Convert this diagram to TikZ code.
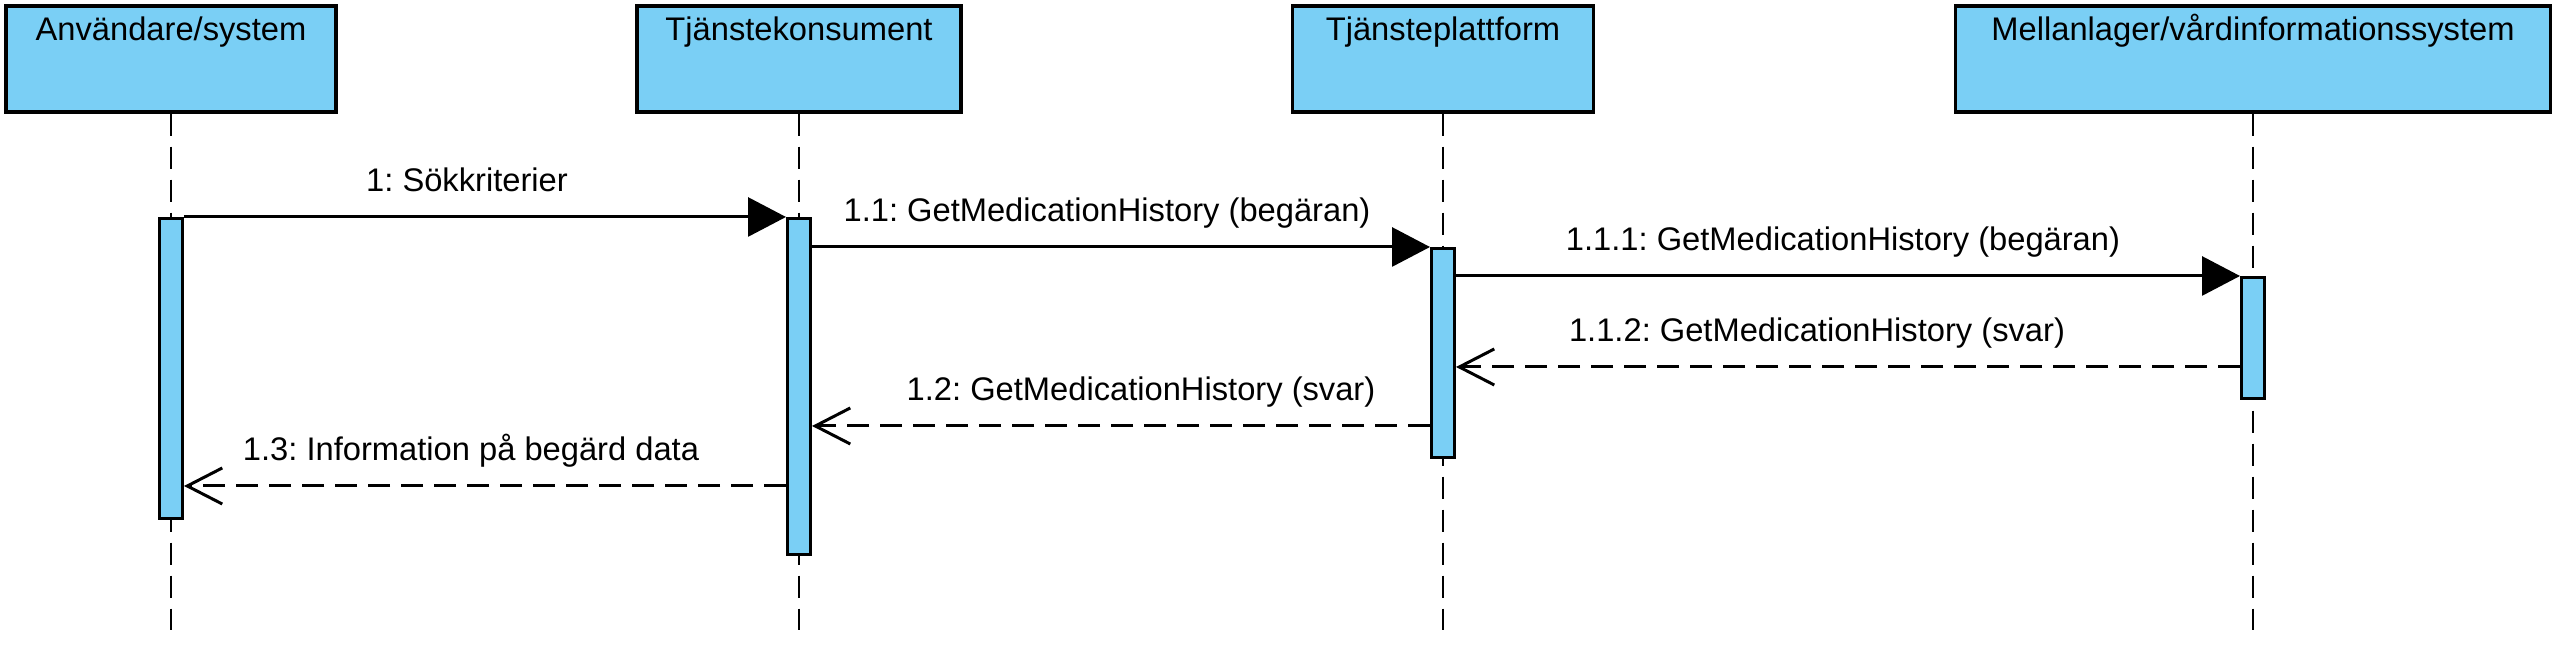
\documentclass[tikz,border=0pt]{standalone}
\usepackage{fontspec}
\setmainfont{Liberation Sans}
\usetikzlibrary{arrows.meta, calc, positioning}
\definecolor{umlblue}{RGB}{122,207,245}
\frenchspacing
\tikzset{
  part/.style  ={draw, fill=umlblue, line width=1pt, inner sep=0pt, minimum height=1.06cm},
  plbl/.style  ={font=\fontsize{9.3}{11}\selectfont, anchor=base, inner sep=0pt},
  act/.style   ={draw, fill=umlblue, line width=0.85pt, minimum width=0.23cm, inner sep=0pt, anchor=north},
  life/.style  ={line width=0.6pt, dash pattern=on 0.22cm off 0.11cm},
  call/.style  ={-{Triangle[length=0.38cm, width=0.39cm]}, line width=0.85pt},
  reply/.style ={-{Straight Barb[length=0.35cm, width=0.36cm]}, line width=0.85pt, dash pattern=on 0.22cm off 0.11cm},
  mlbl/.style  ={font=\fontsize{9.3}{11}\selectfont, anchor=base, inner sep=0pt, yshift=0.25cm},
}

\begin{document}
\begin{tikzpicture}
  \useasboundingbox (0,0) rectangle (25.68,-6.48);
  \node[part, minimum width=3.30cm] (usr)  at (1.71,-0.59)  {};
  \node[part, minimum width=3.24cm] (kons) at (7.99,-0.59)  {};
  \node[part, minimum width=3.01cm] (plat) at (14.43,-0.59) {};
  \node[part, minimum width=5.95cm] (mlag) at (22.53,-0.59) {};
  \node[plbl] (usrl)  at ($(usr.north)+(0,-0.36)$)  {Användare/system};
  \node[plbl] (konsl) at ($(kons.north)+(0,-0.36)$) {Tjänstekonsument};
  \node[plbl] (platl) at ($(plat.north)+(0,-0.36)$) {Tjänsteplattform};
  \node[plbl] (mlagl) at ($(mlag.north)+(0,-0.36)$) {Mellanlager/vårdinformationssystem};
  \coordinate (bot) at (0,-6.30);
  \foreach \p in {usr,kons,plat,mlag}
    \draw[life] (\p.south) -- (\p.south |- bot);
  \node[act, minimum height=3.00cm] (a1) at (1.71,-2.17)  {};
  \node[act, minimum height=3.36cm] (a2) at (7.99,-2.17)  {};
  \node[act, minimum height=2.09cm] (a3) at (14.43,-2.47) {};
  \node[act, minimum height=1.21cm] (a4) at (22.53,-2.76) {};
  \coordinate (r112) at (0,-3.67);
  \coordinate (r12)  at (0,-4.26);
  \coordinate (r13)  at (0,-4.86);
  \draw[call] (a1.north east) -- (a2.north west)
    node[mlbl, midway, xshift=-0.18cm] (m1) {1: Sökkriterier};
  \draw[call] (a2.east |- a3.north) -- (a3.north west)
    node[mlbl, midway, xshift=-0.14cm] (m11) {1.1: GetMedicationHistory (begäran)};
  \draw[call] (a3.east |- a4.north) -- (a4.north west)
    node[mlbl, midway, xshift=-0.05cm] (m111) {1.1.1: GetMedicationHistory (begäran)};
  \draw[reply] (a4.west |- r112) -- (a3.east |- r112)
    node[mlbl, midway, xshift=-0.31cm] (m112) {1.1.2: GetMedicationHistory (svar)};
  \draw[reply] (a3.west |- r12) -- (a2.east |- r12)
    node[mlbl, midway, xshift=0.20cm] (m12) {1.2: GetMedicationHistory (svar)};
  \draw[reply] (a2.west |- r13) -- (a1.east |- r13)
    node[mlbl, midway, xshift=-0.14cm] (m13) {1.3: Information på begärd data};
\end{tikzpicture}
\end{document}
